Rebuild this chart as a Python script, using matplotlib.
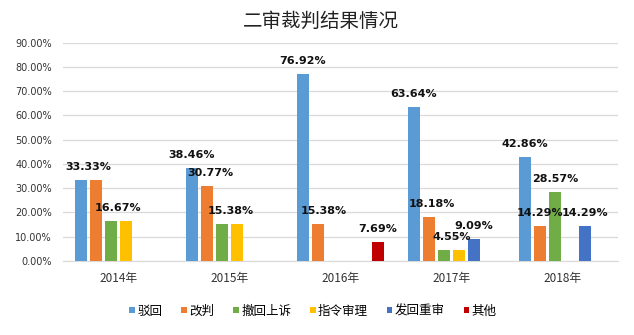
import matplotlib.pyplot as plt
import numpy as np

plt.rcParams['font.family'] = ['Noto Sans CJK SC', 'DejaVu Sans']

# 年份与各类裁判结果占比（%）
years = ['2014年', '2015年', '2016年', '2017年', '2018年']
series_names = ['驳回', '改判', '撤回上诉', '指令审理', '发回重审', '其他']
bohui = [33.33, 38.46, 76.92, 63.64, 42.86]
gaipan = [33.33, 30.77, 15.38, 18.18, 14.29]
chehui = [16.67, 15.38, 0, 4.55, 28.57]
zhiling = [16.67, 15.38, 0, 4.55, 0]
fahui = [0, 0, 0, 9.09, 14.29]
qita = [0, 0, 7.69, 0, 0]
all_series = [bohui, gaipan, chehui, zhiling, fahui, qita]
colors = ['#5B9BD5', '#ED7D31', '#70AD47', '#FFC000', '#4472C4', '#C00000']

# 数据标签：(年份序号, 系列序号, 标签所在槽位)
labels = [
    (0, 0, 0.5), (0, 2, 2.5),
    (1, 0, 0), (1, 1, 1.2), (1, 2, 2.6),
    (2, 0, 0), (2, 1, 1.35), (2, 5, 5),
    (3, 0, 0), (3, 1, 1.2), (3, 2, 2.5), (3, 4, 4),
    (4, 0, 0), (4, 1, 1), (4, 2, 2), (4, 4, 4),
]

W, H = 634, 335
fig = plt.figure(figsize=(W / 100, H / 100), dpi=100)
ax = fig.add_axes([63 / W, (H - 261) / H, (618 - 63) / W, (261 - 42.7) / H])

x = np.arange(len(years))
slot = 15 / 111
bar_w = 12 / 111
for i, (name, vals) in enumerate(zip(series_names, all_series)):
    ax.bar(x + (i - 2.5) * slot, vals, width=bar_w, color=colors[i], label=name, zorder=3)

for yi, si, pos in labels:
    v = all_series[si][yi]
    ax.annotate(f'{v:.2f}%', xy=(yi + (pos - 2.5) * slot, v), xytext=(0, 13 * 0.72),
                textcoords='offset points', ha='center', va='center',
                fontsize=8, fontweight='bold', color='#111111',
                family='DejaVu Sans', zorder=5)

ax.set_xlim(-0.5, 4.5)
ax.set_ylim(0, 90)
ax.set_yticks(np.arange(0, 91, 10))
ax.set_yticklabels([f'{t:.2f}%' for t in range(0, 91, 10)], fontsize=7, family='DejaVu Sans')
ax.set_xticks(x)
ax.set_xticklabels(years, fontsize=8.5)
ax.tick_params(axis='both', length=0, colors='#333333')
ax.tick_params(axis='y', pad=8)
ax.tick_params(axis='x', pad=8)
ax.grid(axis='y', color='#D9D9D9', linewidth=0.9, zorder=0)
for s in ['top', 'right', 'left']:
    ax.spines[s].set_visible(False)
ax.spines['bottom'].set_color('#D9D9D9')

fig.text(321 / W, 1 - 21 / H, '二审裁判结果情况', ha='center', va='center', fontsize=14, color='#222222')

fig.legend(loc='center', bbox_to_anchor=(313 / W, 1 - 311 / H), ncol=6, frameon=False,
           fontsize=9, handlelength=0.45, handleheight=0.45, handletextpad=0.2,
           columnspacing=1.5)

fig.savefig('out.png', dpi=100)
